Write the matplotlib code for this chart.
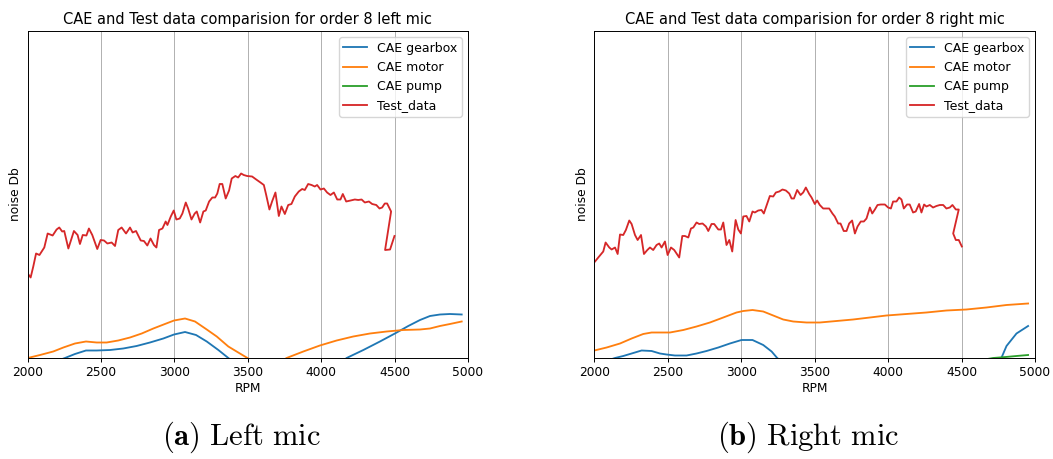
import matplotlib
matplotlib.use("Agg")
import matplotlib.pyplot as plt

# ---------------- left microphone ----------------
left_test_rpm = [2000, 2020, 2038, 2057, 2080, 2113, 2136, 2170, 2197, 2215, 2235, 2249, 2277,
                 2315, 2340, 2356, 2375, 2400, 2417, 2440, 2474, 2497, 2520, 2543, 2572, 2595,
                 2617, 2640, 2670, 2697, 2715, 2738, 2770, 2792, 2815, 2837, 2860, 2877, 2895,
                 2918, 2940, 2952, 2975, 2995, 3013, 3036, 3054, 3077, 3093, 3116, 3138, 3152,
                 3175, 3197, 3213, 3236, 3258, 3277, 3292, 3308, 3326, 3349, 3372, 3390, 3415,
                 3434, 3454, 3472, 3495, 3529, 3557, 3586, 3609, 3625, 3647, 3665, 3688, 3711,
                 3729, 3752, 3775, 3797, 3820, 3847, 3870, 3888, 3911, 3934, 3956, 3972, 3995,
                 4018, 4040, 4063, 4086, 4109, 4131, 4147, 4170, 4200, 4229, 4252, 4275, 4297,
                 4325, 4347, 4375, 4397, 4415, 4433, 4449, 4476, 4435, 4469, 4499]
left_test_db = [56.9, 56.1, 58.3, 60.9, 60.6, 62.1, 64.9, 64.5, 65.7, 66.1, 65.3, 65.4, 61.9,
                65.4, 64.6, 62.8, 64.6, 64.5, 65.9, 64.6, 61.8, 63.6, 63.5, 62.9, 63.1, 62.4,
                65.6, 66.1, 64.9, 66.1, 65.1, 65.4, 63.5, 63.4, 62.5, 63.9, 62.6, 62.1, 65.6,
                65.9, 67.3, 66.6, 68.3, 69.5, 67.7, 67.9, 68.9, 71.1, 69.9, 67.7, 68.9, 69.3,
                67.1, 69.3, 69.5, 71.3, 72.1, 72.1, 72.9, 74.8, 74.8, 71.9, 73.5, 75.9, 76.4,
                76.1, 76.9, 76.6, 76.4, 76.3, 75.7, 75.1, 74.6, 72.6, 69.7, 71.3, 73.1, 68.4,
                70.3, 68.8, 70.6, 70.8, 72.3, 73.3, 73.8, 73.6, 74.8, 74.6, 74.3, 74.6, 73.7,
                73.9, 73.1, 72.6, 73.1, 71.7, 71.7, 72.8, 71.3, 71.5, 71.7, 71.6, 71.7, 71.1,
                71.3, 70.8, 70.6, 69.9, 70.1, 70.9, 70.9, 69.3, 61.6, 61.7, 64.4]

left_motor_rpm = [2000, 2084, 2174, 2243, 2322, 2397, 2470, 2538, 2617, 2697, 2777, 2856, 2935,
                  2997, 3072, 3140, 3220, 3288, 3367, 3446, 3503, 3580, 3650, 3720, 3764, 3878,
                  3991, 4105, 4218, 4332, 4446, 4559, 4673, 4741, 4809, 4877, 4957]
left_motor_db = [40.0, 40.6, 41.3, 42.1, 42.9, 43.3, 43.1, 43.1, 43.5, 44.1, 44.9, 45.9, 46.8,
                 47.5, 47.9, 47.3, 45.7, 44.3, 42.3, 40.9, 39.9, 38.9, 38.6, 39.2, 40.0, 41.3,
                 42.5, 43.5, 44.3, 44.9, 45.3, 45.6, 45.7, 45.9, 46.4, 46.8, 47.3]

left_gearbox_rpm = [2000, 2100, 2180, 2254, 2322, 2397, 2470, 2561, 2651, 2742, 2833, 2924,
                    2997, 3072, 3147, 3220, 3299, 3367, 3450, 3600, 3800, 4000, 4100, 4173,
                    4287, 4400, 4502, 4593, 4673, 4741, 4809, 4877, 4957]
left_gearbox_db = [37.5, 38.4, 39.2, 40.0, 40.8, 41.5, 41.5, 41.6, 41.9, 42.4, 43.1, 43.9,
                   44.7, 45.2, 44.6, 43.3, 41.6, 40.0, 38.2, 35.8, 34.9, 36.4, 38.3, 40.0,
                   41.6, 43.3, 44.9, 46.4, 47.6, 48.4, 48.7, 48.8, 48.7]

left_pump_rpm = [2000, 2500, 3000, 3500, 4000, 4500, 4957]
left_pump_db = [30.5, 31.2, 32.4, 32.0, 33.1, 34.0, 34.8]

# ---------------- right microphone ----------------
right_test_rpm = [2005, 2027, 2050, 2061, 2077, 2102, 2118, 2141, 2159, 2175, 2197, 2215, 2238,
                  2254, 2277, 2295, 2318, 2338, 2361, 2379, 2401, 2424, 2442, 2458, 2481, 2499,
                  2522, 2544, 2578, 2599, 2617, 2640, 2658, 2674, 2696, 2714, 2737, 2760, 2776,
                  2798, 2816, 2844, 2862, 2878, 2900, 2919, 2939, 2962, 2980, 2998, 3014, 3036,
                  3055, 3077, 3093, 3116, 3138, 3154, 3177, 3195, 3218, 3236, 3259, 3281, 3304,
                  3327, 3343, 3359, 3381, 3404, 3422, 3440, 3463, 3479, 3501, 3517, 3535, 3558,
                  3581, 3599, 3621, 3637, 3660, 3676, 3698, 3717, 3735, 3755, 3774, 3792, 3814,
                  3835, 3853, 3876, 3892, 3910, 3928, 3950, 3978, 4000, 4019, 4034, 4057, 4075,
                  4091, 4107, 4129, 4147, 4170, 4188, 4211, 4227, 4245, 4261, 4284, 4306, 4329,
                  4352, 4375, 4397, 4420, 4438, 4461, 4481, 4443, 4461, 4481, 4502]
right_test_db = [59.3, 60.1, 60.9, 61.3, 63.1, 62.1, 61.7, 62.1, 60.8, 64.7, 64.6, 65.6, 67.5,
                 66.8, 64.6, 63.6, 64.6, 60.8, 61.6, 62.1, 61.6, 62.6, 62.9, 62.1, 63.3, 60.6,
                 62.1, 61.6, 60.1, 64.4, 64.4, 64.1, 65.9, 66.1, 67.1, 66.8, 66.9, 66.3, 65.4,
                 66.8, 66.8, 65.7, 65.7, 67.1, 62.6, 63.6, 61.3, 67.6, 65.7, 64.9, 68.3, 68.4,
                 67.3, 69.3, 69.1, 69.5, 69.6, 68.9, 70.9, 72.4, 72.3, 73.1, 73.3, 73.7, 73.5,
                 72.9, 71.9, 71.9, 73.6, 72.6, 73.1, 74.1, 72.8, 72.1, 70.8, 71.5, 70.6, 69.9,
                 69.9, 69.9, 68.9, 68.3, 66.9, 66.9, 65.4, 65.4, 66.9, 67.5, 64.9, 66.3, 67.3,
                 67.3, 67.9, 70.1, 68.9, 69.7, 70.6, 70.7, 70.7, 70.1, 69.9, 71.3, 71.3, 72.1,
                 71.7, 69.9, 70.7, 70.7, 69.1, 69.3, 70.8, 69.1, 70.7, 70.3, 70.6, 70.1, 70.4,
                 70.6, 70.6, 69.9, 70.1, 70.6, 69.7, 69.7, 64.9, 63.6, 63.6, 62.3]

right_motor_rpm = [2000, 2084, 2175, 2254, 2333, 2390, 2447, 2515, 2606, 2696, 2787, 2878,
                   2968, 3014, 3077, 3150, 3218, 3286, 3354, 3445, 3535, 3649, 3762, 3876,
                   3989, 4125, 4261, 4397, 4533, 4669, 4806, 4953]
right_motor_db = [41.5, 42.1, 42.9, 43.9, 44.8, 45.1, 45.1, 45.1, 45.6, 46.3, 47.1, 48.1,
                  49.1, 49.4, 49.6, 49.3, 48.5, 47.7, 47.3, 47.1, 47.1, 47.4, 47.7, 48.1,
                  48.5, 48.8, 49.1, 49.5, 49.7, 50.1, 50.6, 50.9]

right_gearbox_rpm = [2000, 2080, 2141, 2197, 2254, 2322, 2390, 2447, 2492, 2549, 2628, 2696,
                     2764, 2844, 2923, 3002, 3077, 3150, 3207, 3245, 3300, 3500, 4000, 4500,
                     4700, 4771, 4806, 4874, 4953]
right_gearbox_db = [38.6, 39.4, 40.0, 40.4, 40.9, 41.5, 41.4, 40.9, 40.7, 40.5, 40.5, 40.9,
                    41.4, 42.1, 42.9, 43.6, 43.6, 42.6, 41.3, 40.0, 38.8, 36.5, 34.8, 36.6,
                    38.8, 40.0, 42.4, 44.9, 46.4]

right_pump_rpm = [2000, 2500, 3000, 3500, 4000, 4500, 4715, 4800, 4874, 4953]
right_pump_db = [33.0, 34.2, 35.4, 36.5, 37.6, 38.9, 40.0, 40.2, 40.4, 40.6]

XTICKS = [2000, 2500, 3000, 3500, 4000, 4500, 5000]
Y_LIMITS = (40.0, 105.4)

panels = [
    ("CAE and Test data comparision for order 8 left mic",
     (left_gearbox_rpm, left_gearbox_db), (left_motor_rpm, left_motor_db),
     (left_pump_rpm, left_pump_db), (left_test_rpm, left_test_db),
     r"$\mathbf{(a)}\ \mathrm{Left\ mic}$"),
    ("CAE and Test data comparision for order 8 right mic",
     (right_gearbox_rpm, right_gearbox_db), (right_motor_rpm, right_motor_db),
     (right_pump_rpm, right_pump_db), (right_test_rpm, right_test_db),
     r"$\mathbf{(b)}\ \mathrm{Right\ mic}$"),
]

W, H = 1053, 459
plt.rcParams["mathtext.fontset"] = "cm"
fig = plt.figure(figsize=(W / 100, H / 100), dpi=100)

axes_px = [(27.7, 468.0), (594.3, 1035.0)]
caption_x = [241, 808]
top_px, bottom_px = 31.0, 358.0
fs = 8.8
lw = 1.32

for (title, gb, mo, pu, te, caption), (x0, x1), cx in zip(panels, axes_px, caption_x):
    ax = fig.add_axes([x0 / W, 1 - bottom_px / H, (x1 - x0) / W, (bottom_px - top_px) / H])
    ax.plot(*gb, color="C0", lw=lw, label="CAE gearbox")
    ax.plot(*mo, color="C1", lw=lw, label="CAE motor")
    ax.plot(*pu, color="C2", lw=lw, label="CAE pump")
    ax.plot(*te, color="C3", lw=lw, label="Test_data")
    ax.set_xlim(2000, 5000)
    ax.set_ylim(*Y_LIMITS)
    ax.set_xticks(XTICKS)
    ax.set_yticks([])
    ax.tick_params(axis="x", labelsize=fs, width=0.7, length=3.1, pad=3)
    ax.grid(axis="x", color="#b0b0b0", lw=0.7)
    for s in ax.spines.values():
        s.set_linewidth(0.7)
    ax.set_title(title, fontsize=10.5, pad=5)
    ax.set_xlabel("RPM", fontsize=fs, labelpad=2)
    ax.set_ylabel("noise Db", fontsize=fs, labelpad=4)
    ax.legend(loc="upper right", fontsize=9.0, framealpha=0.8, edgecolor="#cccccc",
              borderpad=0.35, handlelength=1.9)
    fig.text(cx / W, 1 - 437 / H, caption, ha="center", va="center", fontsize=22)

fig.savefig("out.png", dpi=100)
